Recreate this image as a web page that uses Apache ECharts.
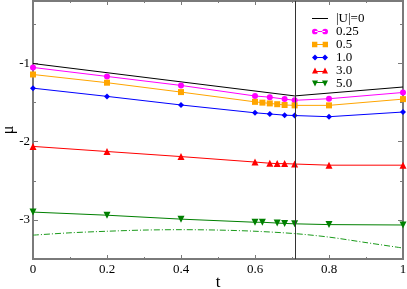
<!DOCTYPE html>
<html><head><meta charset="utf-8">
<script src="https://cdn.jsdelivr.net/npm/echarts@6/dist/echarts.min.js"></script>
<style>html,body{margin:0;padding:0;background:#fff}#c{width:407px;height:289px}</style>
</head><body><div id="c"></div>
<script>
const xTickValues = [0, 0.2, 0.4, 0.6, 0.8, 1];
const xMinorTicks = [0.1, 0.3, 0.5, 0.7, 0.9];
const yTickLabels = [-3, -2, -1];
const yMinorTicks = [-2.5, -1.5, -0.5];
const tCrit = 0.7071;

const names = ['|U|=0', '0.25', '0.5', '1.0', '3.0', '5.0'];
const t0 = [0, 0.7071, 1];
const mu0 = [-1.0, -1.414, -1.30];
const t025 = [0, 0.2, 0.4, 0.6, 0.64, 0.68, 0.7071, 0.8, 1];
const mu025 = [-1.05, -1.165, -1.28, -1.415, -1.43, -1.455, -1.47, -1.45, -1.37];
const t05 = [0, 0.2, 0.4, 0.6, 0.62, 0.64, 0.66, 0.68, 0.7071, 0.8, 1];
const mu05 = [-1.14, -1.245, -1.365, -1.49, -1.50, -1.51, -1.52, -1.53, -1.535, -1.535, -1.455];
const t10 = [0, 0.2, 0.4, 0.6, 0.64, 0.68, 0.7071, 0.8, 1];
const mu10 = [-1.315, -1.42, -1.53, -1.63, -1.645, -1.66, -1.665, -1.68, -1.62];
const t30 = [0, 0.2, 0.4, 0.6, 0.64, 0.66, 0.68, 0.7071, 0.8, 1];
const mu30 = [-2.06, -2.125, -2.19, -2.26, -2.275, -2.28, -2.28, -2.285, -2.30, -2.30];
const t50 = [0, 0.2, 0.4, 0.6, 0.62, 0.66, 0.68, 0.7071, 0.8, 1];
const mu50 = [-2.90, -2.94, -2.99, -3.03, -3.03, -3.04, -3.045, -3.05, -3.06, -3.065];
const tDD = [0, 0.1, 0.2, 0.3, 0.4, 0.5, 0.6, 0.7071, 0.8, 0.9, 1];
const muDD = [-3.195, -3.165, -3.145, -3.13, -3.125, -3.13, -3.145, -3.175, -3.22, -3.29, -3.36];

function pairs(t, m) { return t.map((v, i) => [v, m[i]]); }

const AX = '#7a7a7a';
const FONT = 'Liberation Serif';
const downTri = 'path://M0,0L10,0L5,9Z';

function xAx(pos, labels, minor) {
  return {
    type: 'value', position: pos, min: 0, max: 1, interval: 0.2,
    axisLine: { show: true, onZero: false, lineStyle: { color: AX, width: 2 } },
    axisTick: { show: true, inside: true, length: minor ? 2 : 4, customValues: minor ? xMinorTicks : xTickValues,
      lineStyle: { color: AX, width: 1 } },
    splitLine: { show: false },
    axisLabel: { show: labels, fontFamily: FONT, fontSize: 13, color: '#000', margin: 4,
      formatter: v => (v === 0 || v === 1) ? String(v) : v.toFixed(1) },
    name: labels ? 't' : '', nameLocation: 'middle', nameGap: 15, nameMoveOverlap: false,
    nameTextStyle: { fontFamily: FONT, fontSize: 17, color: '#000' }
  };
}
function yAx(pos, labels, minor) {
  return {
    type: 'value', position: pos, min: -3.5, max: -0.2,
    axisLine: { show: true, onZero: false, lineStyle: { color: AX, width: 2 } },
    axisTick: { show: true, inside: true, length: minor ? 3 : 5, customValues: minor ? yMinorTicks : yTickLabels,
      lineStyle: { color: AX, width: 1 } },
    splitLine: { show: false },
    axisLabel: { show: labels, customValues: yTickLabels, fontFamily: FONT, fontSize: 13, color: '#000', margin: 3 },
    name: labels ? 'μ' : '', nameLocation: 'middle', nameGap: 16, nameRotate: 90, nameMoveOverlap: false,
    nameTextStyle: { fontFamily: FONT, fontSize: 16, color: '#000' }
  };
}

function ser(name, data, color, symbol, size) {
  return {
    name: name, type: 'line', data: data, symbol: symbol, symbolSize: size,
    showSymbol: symbol !== 'none',
    lineStyle: { color: color, width: 1 }, itemStyle: { color: color },
    xAxisIndex: 0, yAxisIndex: 0, animation: false, z: 3
  };
}

const series = [
  Object.assign(ser(names[0], pairs(t0, mu0), '#000000', 'none', 0), {
    markLine: { silent: true, symbol: 'none', label: { show: false },
      lineStyle: { color: '#333', width: 1, type: 'solid' }, data: [{ xAxis: tCrit }] }
  }),
  ser(names[1], pairs(t025, mu025), '#ff00ff', 'circle', 6),
  ser(names[2], pairs(t05, mu05), '#ffa500', 'rect', 6),
  ser(names[3], pairs(t10, mu10), '#0000ff', 'diamond', 6),
  ser(names[4], pairs(t30, mu30), '#ff0000', 'triangle', 7),
  ser(names[5], pairs(t50, mu50), '#008000', downTri, 7),
  {
    name: 'dd', type: 'line', data: pairs(tDD, muDD), symbol: 'none', smooth: 0.3,
    lineStyle: { color: '#1a9a1a', width: 1, type: [6, 2, 1, 2] }, animation: false
  }
];

const icons = {
  '|U|=0': 'path://M0,0h0.01v0.01h-0.01ZM0,6h0.01v0.01h-0.01ZM0,2.5h16v1h-16Z',
  '0.25': 'path://M0.2,3a2.8,2.8 0 1,0 5.6,0a2.8,2.8 0 1,0 -5.6,0ZM10.2,3a2.8,2.8 0 1,0 5.6,0a2.8,2.8 0 1,0 -5.6,0ZM3,2.5h10v1h-10Z',
  '0.5': 'path://M0.5,0.5h5v5h-5ZM10.5,0.5h5v5h-5ZM3,2.5h10v1h-10Z',
  '1.0': 'path://M3,0L6,3L3,6L0,3ZM13,0L16,3L13,6L10,3ZM3,2.5h10v1h-10Z',
  '3.0': 'path://M3,0L6,6L0,6ZM13,0L16,6L10,6ZM3,3.5h10v1h-10Z',
  '5.0': 'path://M0,0L6,0L3,6ZM10,0L16,0L13,6ZM3,1.5h10v1h-10Z'
};

const chart = echarts.init(document.getElementById('c'), null, { renderer: 'canvas' });
chart.setOption({
  animation: false,
  backgroundColor: '#fff',
  grid: { left: 33, right: 4, top: 1, bottom: 30, containLabel: false, outerBoundsMode: 'none' },
  xAxis: [xAx('bottom', true, false), xAx('top', false, false), xAx('bottom', false, true), xAx('top', false, true)],
  yAxis: [yAx('left', true, false), yAx('right', false, false), yAx('left', false, true), yAx('right', false, true)],
  legend: {
    orient: 'vertical', left: 307, top: 7, itemWidth: 16, itemHeight: 6, itemGap: 0,
    textStyle: { fontFamily: FONT, fontSize: 13, color: '#000', lineHeight: 11.5, padding: [0, 0, 0, 3] },
    data: names.map(n => ({ name: n, icon: icons[n] }))
  },
  series: series
});
</script></body></html>
